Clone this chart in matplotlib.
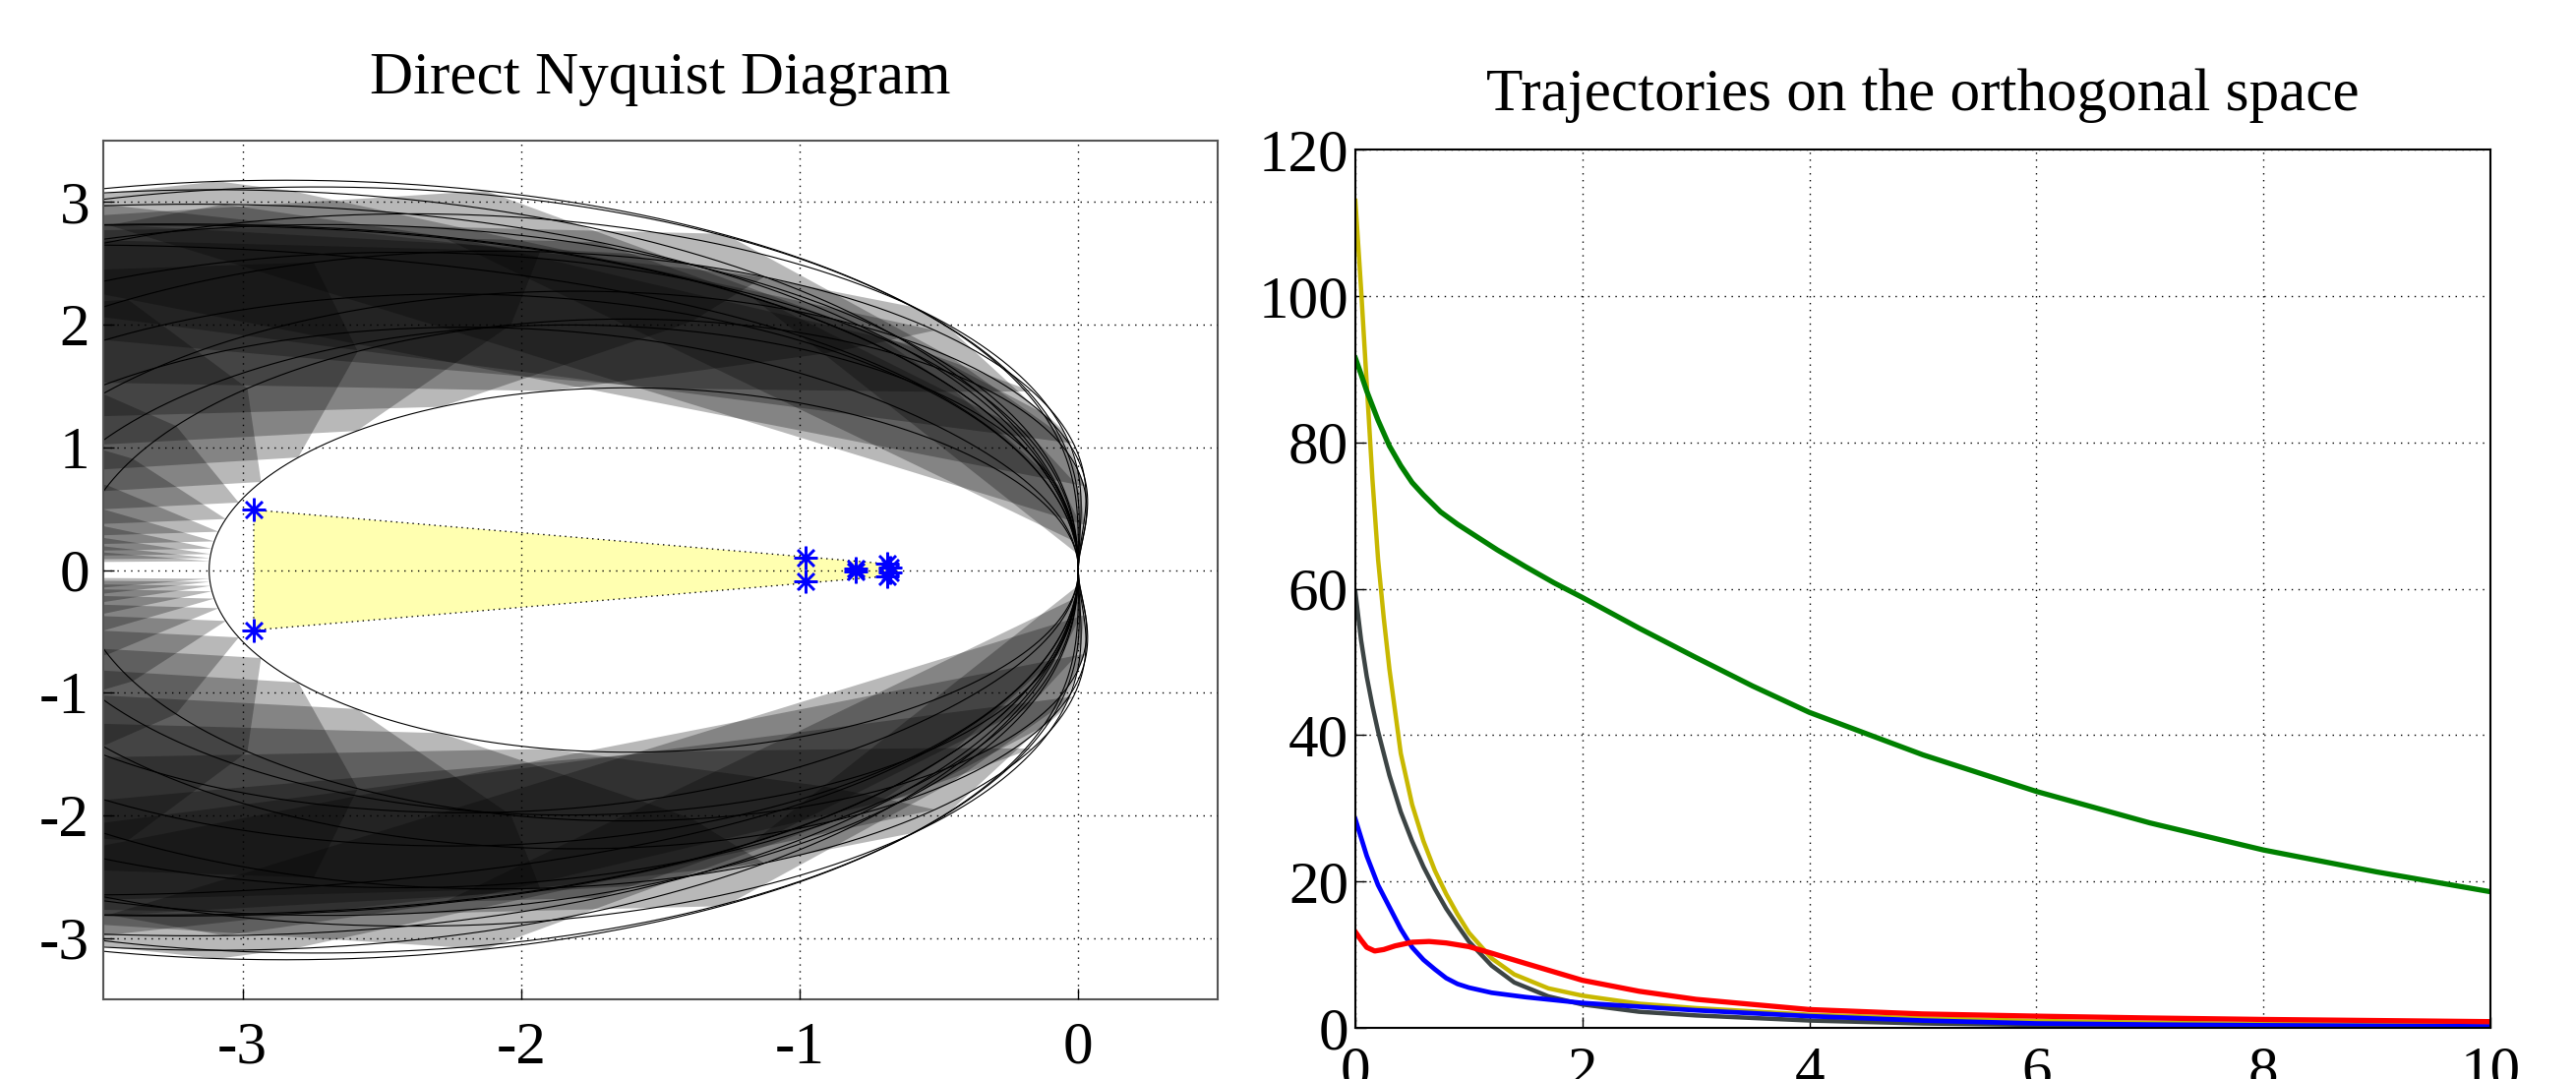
import numpy as np
import matplotlib
matplotlib.use("Agg")
import matplotlib.pyplot as plt
from matplotlib.patches import Polygon

# ---------------- data ----------------
# Nyquist family: G(s) = -g (1 + s/(b p)) / ((1 + s/p)(1 + s/(a p)))
dc_gain = [3.12, 6.0, 6.2, 4.0, 4.6, 5.2, 3.6, 7.0, 6.5, 7.5, 8.0, 4.5, 5.0, 5.5, 3.8, 4.2, 5.8]
pole2   = [3.0, 3.0, 2.0, 1.0, 1.0, 1.0, 1.0, 4.0, 4.0, 5.0, 6.0, 3.0, 2.5, 3.5, 2.0, 4.0, 2.0]
zero    = [2.4, 4.2, 2.0, 2.5, 2.4, 2.2, 2.5, 1.5, 1.8, 1.6, 1.5, 3.0, 3.0, 4.0, 2.6, 3.0, 3.0]
tscale  = [1.0, 1.0, 0.8, 1.3, 0.7, 1.6, 0.9, 1.0, 0.6, 1.4, 0.8, 1.2, 0.7, 1.5, 0.6, 1.8, 1.1]

# blue asterisks (real, imag)
pole_re = [-2.96, -2.96, -0.98, -0.98, -0.80, -0.80, -0.685, -0.685, -0.675, -0.675]
pole_im = [0.49, -0.49, 0.10, -0.09, 0.01, -0.01, 0.05, -0.05, 0.02, -0.02]

nyq_xticks = [-3, -2, -1, 0]
nyq_yticks = [-3, -2, -1, 0, 1, 2, 3]

# trajectories
green_x = [0, 0.05, 0.1, 0.15, 0.2, 0.3, 0.4, 0.5, 0.6, 0.75, 0.9, 1.0, 1.25, 1.5, 1.75, 2, 2.5, 3, 3.5, 4, 5, 6, 7, 8, 9, 10]
green_y = [91.5, 89.3, 87, 85, 83, 79.5, 76.8, 74.5, 72.8, 70.5, 68.8, 67.8, 65.3, 63, 60.8, 58.8, 54.6, 50.6, 46.7, 43.1, 37.3, 32.3, 28, 24.3, 21.3, 18.6]

yellow_x = [0, 0.05, 0.1, 0.15, 0.2, 0.25, 0.3, 0.4, 0.5, 0.6, 0.7, 0.8, 0.9, 1.0, 1.2, 1.4, 1.7, 2.0, 2.5, 3.0, 4.0, 5.0, 6.0, 7.0, 8.0, 9.0, 10.0]
yellow_y = [113, 101, 88, 75, 64, 56, 49, 37.5, 30.5, 25.5, 21.5, 18.3, 15.5, 13, 9.5, 7.3, 5.4, 4.4, 3.3, 2.7, 1.8, 1.3, 0.95, 0.7, 0.55, 0.45, 0.35]

gray_x = [0, 0.05, 0.1, 0.15, 0.2, 0.3, 0.4, 0.5, 0.6, 0.7, 0.8, 0.9, 1.0, 1.2, 1.4, 1.7, 2.0, 2.5, 3, 4, 5, 6, 7, 8, 10]
gray_y = [59.5, 53, 48, 44, 40.5, 34.5, 29.5, 25.5, 22, 19, 16.3, 14, 11.8, 8.5, 6.2, 4.3, 3.2, 2.2, 1.7, 1.0, 0.6, 0.4, 0.3, 0.2, 0.1]

blue_x = [0, 0.05, 0.1, 0.2, 0.3, 0.4, 0.5, 0.6, 0.7, 0.8, 0.9, 1.0, 1.2, 1.5, 2.0, 2.5, 3, 4, 5, 6, 7, 8, 10]
blue_y = [28.5, 26, 23.5, 19.5, 16.5, 13.5, 11, 9.3, 8, 6.8, 6.0, 5.5, 4.8, 4.2, 3.4, 2.9, 2.4, 1.6, 1.0, 0.6, 0.45, 0.35, 0.2]

red_x = [0, 0.05, 0.1, 0.17, 0.25, 0.35, 0.5, 0.65, 0.8, 1.0, 1.2, 1.5, 2.0, 2.5, 3, 3.5, 4, 5, 6, 7, 8, 9, 10]
red_y = [13.1, 12, 11, 10.5, 10.7, 11.2, 11.7, 11.8, 11.6, 11.1, 10.2, 8.8, 6.5, 5.0, 3.9, 3.2, 2.5, 1.9, 1.6, 1.35, 1.15, 1.0, 0.85]

traj_xticks = [0, 2, 4, 6, 8, 10]
traj_yticks = [0, 20, 40, 60, 80, 100, 120]

# ---------------- figure ----------------
W, H = 2619, 1097
fig = plt.figure(figsize=(W / 100, H / 100), dpi=100)
serif = "Liberation Serif"


def axrect(l, t, r, b):
    return [l / W, 1 - b / H, (r - l) / W, (b - t) / H]


def response(g, a, b, p, w):
    s = 1j * w / p
    return -g * (1 + s / b) / ((1 + s) * (1 + s / a))


def hull(pts):
    pts = sorted(set(pts))
    if len(pts) < 3:
        return pts

    def cross(o, p, q):
        return (p[0] - o[0]) * (q[1] - o[1]) - (p[1] - o[1]) * (q[0] - o[0])

    lower, upper = [], []
    for p in pts:
        while len(lower) >= 2 and cross(lower[-2], lower[-1], p) <= 0:
            lower.pop()
        lower.append(p)
    for p in reversed(pts):
        while len(upper) >= 2 and cross(upper[-2], upper[-1], p) <= 0:
            upper.pop()
        upper.append(p)
    return lower[:-1] + upper[:-1]


params = list(zip(dc_gain, pole2, zero, tscale))

# ---- left: Nyquist ----
ax1 = fig.add_axes(axrect(105, 143, 1238, 1016))
ax1.set_xlim(-3.5, 0.5)
ax1.set_ylim(-3.5, 3.5)

wgrid = np.concatenate([np.logspace(-1.6, 0.2, 15), np.logspace(0.35, 1.05, 4)])
for w in wgrid:
    pts = [(float(z.real), float(z.imag)) for z in
           (response(g, a, b, p, w) for g, a, b, p in params)]
    hp = hull(pts)
    if len(hp) >= 3:
        for sgn in (1, -1):
            poly = Polygon([(x, sgn * y) for x, y in hp], closed=True,
                           facecolor="black", alpha=0.28, edgecolor="none", zorder=1)
            ax1.add_patch(poly)

wline = np.logspace(-3, 3.5, 2500)
for g, a, b, p in params:
    r = response(g, a, b, p, wline)
    ax1.plot(r.real, r.imag, color="black", lw=0.8, zorder=2)
    ax1.plot(r.real, -r.imag, color="black", lw=0.8, zorder=2)

ppts = hull(list(zip(pole_re, pole_im)))
ax1.add_patch(Polygon(ppts, closed=True, facecolor="#ffffb0", edgecolor="black",
                      linestyle=(0, (1, 3)), lw=1.0, zorder=1.5))
ax1.plot(pole_re, pole_im, linestyle="none", marker=(8, 2, 0), markersize=17,
         markeredgewidth=1.8, color="#0000ff", zorder=4)

ax1.set_xticks(nyq_xticks)
ax1.set_xticklabels([str(v) for v in nyq_xticks])
ax1.set_yticks(nyq_yticks)
ax1.set_yticklabels([str(v) for v in nyq_yticks])
ax1.grid(True, color="black", linestyle=(0, (1, 4)), lw=1.0)
ax1.set_axisbelow(False)
ax1.tick_params(direction="in", length=8, width=1, labelsize=44)
ax1.tick_params(axis="x", pad=16)
ax1.tick_params(axis="y", pad=10)
for sp in ax1.spines.values():
    sp.set_color("#555555")
    sp.set_linewidth(1.5)
for lab in ax1.get_xticklabels() + ax1.get_yticklabels():
    lab.set_fontfamily(serif)

# ---- right: trajectories ----
ax2 = fig.add_axes(axrect(1378, 152, 2532, 1045))
ax2.set_xlim(0, 10)
ax2.set_ylim(0, 120)
ax2.plot(gray_x, gray_y, color="#3c4444", lw=3.2)
ax2.plot(yellow_x, yellow_y, color="#c8b800", lw=3.2)
ax2.plot(green_x, green_y, color="#008000", lw=3.8)
ax2.plot(blue_x, blue_y, color="#0000ff", lw=3.4)
ax2.plot(red_x, red_y, color="#ff0000", lw=3.8)
ax2.set_xticks(traj_xticks)
ax2.set_xticklabels([str(v) for v in traj_xticks])
ax2.set_yticks(traj_yticks)
ax2.set_yticklabels([str(v) for v in traj_yticks])
ax2.grid(True, color="black", linestyle=(0, (1, 4)), lw=1.0)
ax2.tick_params(direction="in", length=8, width=1, labelsize=44)
ax2.tick_params(axis="x", pad=13)
ax2.tick_params(axis="y", pad=5)
for sp in ax2.spines.values():
    sp.set_color("black")
    sp.set_linewidth(1.5)
for lab in ax2.get_xticklabels() + ax2.get_yticklabels():
    lab.set_fontfamily(serif)

fig.text(671 / W, 1 - 95 / H, "Direct Nyquist Diagram", ha="center", va="baseline",
         fontsize=44, family=serif)
fig.text(1955 / W, 1 - 112 / H, "Trajectories on the orthogonal space", ha="center",
         va="baseline", fontsize=44, family=serif)

fig.savefig("out.png", dpi=100)
